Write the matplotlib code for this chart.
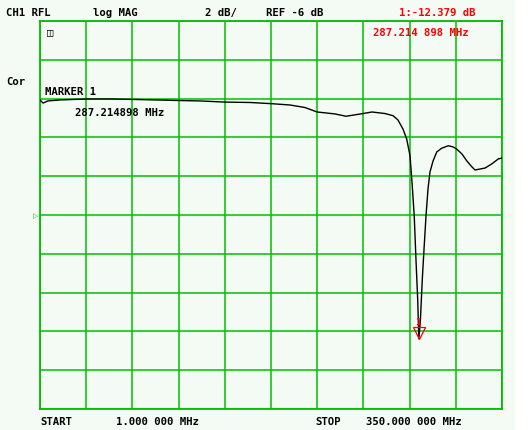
import numpy as np
import matplotlib
matplotlib.use('Agg')
import matplotlib.pyplot as plt
from matplotlib.transforms import offset_copy

# Trace (MHz, dB):
freq = [1.0, 3.3, 7.0, 16.1, 35.7, 53.9, 76.5, 106.8, 121.9, 140.7, 159.6,
        175.5, 189.9, 201.2, 210.3, 223.8, 232.2, 245.0, 251.8, 261.6, 267.7,
        271.4, 275.2, 278.0, 280.5, 282.2, 283.7, 285.0, 286.3, 287.2, 288.4,
        289.8, 291.1, 292.6, 294.1, 295.6, 297.9, 300.7, 304.4, 309.4, 313.0,
        315.8, 319.8, 323.3, 326.6, 329.6, 333.4, 337.2, 342.2, 347.2, 350.0]
mag = [-0.07, -0.23, -0.12, -0.07, -0.02, -0.02, -0.05, -0.10, -0.12, -0.18,
       -0.20, -0.26, -0.33, -0.46, -0.69, -0.79, -0.91, -0.77, -0.69, -0.77,
       -0.88, -1.10, -1.57, -2.08, -2.94, -4.49, -6.04, -8.27, -10.33, -12.38,
       -11.36, -9.30, -7.75, -6.04, -4.66, -3.78, -3.22, -2.75, -2.56, -2.43,
       -2.49, -2.60, -2.86, -3.20, -3.47, -3.68, -3.63, -3.58, -3.37, -3.11,
       -3.06]

# Analyzer settings:
f_start, f_stop = 1.0, 350.0
ref_level, scale = -6.0, 2.0
mkr_freq, mkr_val = 287.214898, -12.379

W, H = 532, 431
bg = '#f4faf4'
green = '#00c000'
red = '#ff0000'

fig = plt.figure(figsize=(W / 100, H / 100), dpi=100)
fig.patch.set_facecolor(bg)
# white strip on the right of the screen
fig.patches.append(plt.Rectangle((515 / W, 0), 1, 1, transform=fig.transFigure,
                                 facecolor='white', edgecolor='none', zorder=0))

ax = fig.add_axes([40 / W, (H - 410) / H, 462 / W, 388 / H])
ax.set_facecolor(bg)
ax.set_xlim(f_start, f_stop)
ax.set_ylim(ref_level - 5 * scale, ref_level + 5 * scale)
ax.set_xticks(np.linspace(f_start, f_stop, 11))
ax.set_yticks(np.linspace(ref_level - 5 * scale, ref_level + 5 * scale, 11))
ax.grid(True, color=green, linewidth=1.1)
ax.tick_params(length=0, labelbottom=False, labelleft=False)
for s in ax.spines.values():
    s.set_color(green)
    s.set_linewidth(1.3)

ax.plot(freq, mag, color='black', linewidth=1.0, zorder=3)

# Marker 1 (tip of the triangle sits on the trace)
tr = offset_copy(ax.transData, fig=fig, x=0, y=6, units='dots')
ax.plot(mkr_freq, mkr_val, marker='v', markersize=8, markerfacecolor='none',
        markeredgecolor=red, markeredgewidth=0.9, transform=tr, zorder=4)
tr1 = offset_copy(ax.transData, fig=fig, x=-1, y=17, units='dots')
ax.text(mkr_freq, mkr_val, '1', transform=tr1, color=red, fontsize=6.5,
        fontweight='bold', family='DejaVu Sans Mono', va='center', ha='center',
        zorder=6)

# Reference position marker on the left
fig.text(33 / W, 1 - 216 / H, '\u25b7', color=green, fontsize=5,
         va='center', ha='left')

fs = 7.7
def label(x, y, s, color='black'):
    fig.text(x / W, 1 - y / H, s, color=color, fontsize=fs, fontweight='bold',
             family='DejaVu Sans Mono', va='center', ha='left')

label(6, 13, 'CH1 RFL')
label(93, 13, 'log MAG')
label(205, 13, '2 dB/')
label(266, 13, 'REF -6 dB')
label(399, 13, '1:-12.379 dB', red)
label(373, 33, '287.214 898 MHz', red)
label(6, 82, 'Cor')
label(45, 92, 'MARKER 1')
label(75, 113, '287.214898 MHz')
label(40, 422, 'START')
label(116, 422, '1.000 000 MHz')
label(315, 422, 'STOP')
label(366, 422, '350.000 000 MHz')
label(47, 32, '\u25eb', 'black')

fig.savefig('out.png', dpi=100, facecolor=bg)
